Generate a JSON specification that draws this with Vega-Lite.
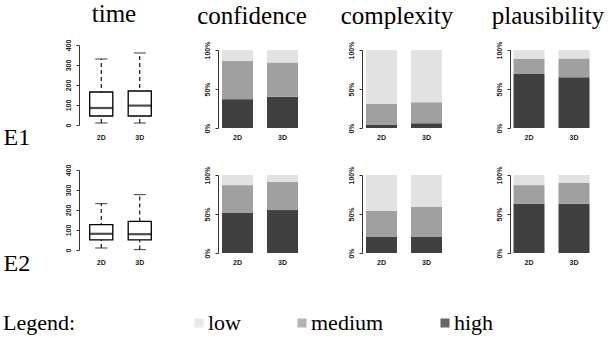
{
  "$schema": "https://vega.github.io/schema/vega-lite/v6.json",
  "background": "white",
  "padding": {"left": 3, "top": 2, "right": 5, "bottom": 5},
  "datasets": {
    "box": [
      {"exp": "E1", "cond": "2D", "lower": 10, "q1": 45, "median": 85, "q3": 165, "upper": 330},
      {"exp": "E1", "cond": "3D", "lower": 10, "q1": 45, "median": 97, "q3": 170, "upper": 360},
      {"exp": "E2", "cond": "2D", "lower": 10, "q1": 51, "median": 81, "q3": 127, "upper": 232},
      {"exp": "E2", "cond": "3D", "lower": 2, "q1": 51, "median": 79, "q3": 143, "upper": 277}
    ],
    "bars": [
      {"exp": "E1", "metric": "confidence", "cond": "2D", "level": "high", "share": 0.37},
      {"exp": "E1", "metric": "confidence", "cond": "2D", "level": "medium", "share": 0.49},
      {"exp": "E1", "metric": "confidence", "cond": "2D", "level": "low", "share": 0.14},
      {"exp": "E1", "metric": "confidence", "cond": "3D", "level": "high", "share": 0.40},
      {"exp": "E1", "metric": "confidence", "cond": "3D", "level": "medium", "share": 0.44},
      {"exp": "E1", "metric": "confidence", "cond": "3D", "level": "low", "share": 0.16},
      {"exp": "E1", "metric": "complexity", "cond": "2D", "level": "high", "share": 0.04},
      {"exp": "E1", "metric": "complexity", "cond": "2D", "level": "medium", "share": 0.27},
      {"exp": "E1", "metric": "complexity", "cond": "2D", "level": "low", "share": 0.69},
      {"exp": "E1", "metric": "complexity", "cond": "3D", "level": "high", "share": 0.06},
      {"exp": "E1", "metric": "complexity", "cond": "3D", "level": "medium", "share": 0.27},
      {"exp": "E1", "metric": "complexity", "cond": "3D", "level": "low", "share": 0.67},
      {"exp": "E1", "metric": "plausibility", "cond": "2D", "level": "high", "share": 0.70},
      {"exp": "E1", "metric": "plausibility", "cond": "2D", "level": "medium", "share": 0.19},
      {"exp": "E1", "metric": "plausibility", "cond": "2D", "level": "low", "share": 0.11},
      {"exp": "E1", "metric": "plausibility", "cond": "3D", "level": "high", "share": 0.65},
      {"exp": "E1", "metric": "plausibility", "cond": "3D", "level": "medium", "share": 0.24},
      {"exp": "E1", "metric": "plausibility", "cond": "3D", "level": "low", "share": 0.11},
      {"exp": "E2", "metric": "confidence", "cond": "2D", "level": "high", "share": 0.52},
      {"exp": "E2", "metric": "confidence", "cond": "2D", "level": "medium", "share": 0.35},
      {"exp": "E2", "metric": "confidence", "cond": "2D", "level": "low", "share": 0.13},
      {"exp": "E2", "metric": "confidence", "cond": "3D", "level": "high", "share": 0.55},
      {"exp": "E2", "metric": "confidence", "cond": "3D", "level": "medium", "share": 0.36},
      {"exp": "E2", "metric": "confidence", "cond": "3D", "level": "low", "share": 0.09},
      {"exp": "E2", "metric": "complexity", "cond": "2D", "level": "high", "share": 0.21},
      {"exp": "E2", "metric": "complexity", "cond": "2D", "level": "medium", "share": 0.33},
      {"exp": "E2", "metric": "complexity", "cond": "2D", "level": "low", "share": 0.46},
      {"exp": "E2", "metric": "complexity", "cond": "3D", "level": "high", "share": 0.21},
      {"exp": "E2", "metric": "complexity", "cond": "3D", "level": "medium", "share": 0.38},
      {"exp": "E2", "metric": "complexity", "cond": "3D", "level": "low", "share": 0.41},
      {"exp": "E2", "metric": "plausibility", "cond": "2D", "level": "high", "share": 0.63},
      {"exp": "E2", "metric": "plausibility", "cond": "2D", "level": "medium", "share": 0.24},
      {"exp": "E2", "metric": "plausibility", "cond": "2D", "level": "low", "share": 0.13},
      {"exp": "E2", "metric": "plausibility", "cond": "3D", "level": "high", "share": 0.63},
      {"exp": "E2", "metric": "plausibility", "cond": "3D", "level": "medium", "share": 0.27},
      {"exp": "E2", "metric": "plausibility", "cond": "3D", "level": "low", "share": 0.10}
    ]
  },
  "columns": 4,
  "align": "each",
  "bounds": "flush",
  "spacing": {"row": 42, "column": 56},
  "concat": [
    {
      "width": 83, "height": 80,
      "title": {"text": "time", "dx": -6.5, "offset": 12, "font": "Liberation Serif", "fontSize": 25, "fontWeight": "normal"},
      "data": {"name": "box"},
      "transform": [{"filter": "datum.exp === 'E1'"}],
      "encoding": {
        "x": {"field": "cond", "type": "nominal", "title": null,
              "scale": {"paddingInner": 0.4, "paddingOuter": 0.278},
              "axis": {"labelPadding": 8}}
      },
      "layer": [
        {"mark": {"type": "rule", "color": "#000", "strokeWidth": 1.1, "strokeDash": [4, 3]},
         "encoding": {
           "y": {"field": "lower", "type": "quantitative", "scale": {"domain": [0, 400], "nice": false},
                 "axis": {"values": [0, 100, 200, 300, 400], "labelOverlap": false, "title": "E1", "titleAngle": 0,
                          "titleX": -76, "titleY": 99, "titleAlign": "left", "titleBaseline": "alphabetic"}},
           "y2": {"field": "upper"}}},
        {"mark": {"type": "tick", "color": "#000", "size": 12, "thickness": 1.1},
         "encoding": {"y": {"field": "upper", "type": "quantitative",
                 "axis": {"values": [0, 100, 200, 300, 400], "labelOverlap": false, "title": "E1", "titleAngle": 0,
                          "titleX": -76, "titleY": 99, "titleAlign": "left", "titleBaseline": "alphabetic"}}}},
        {"mark": {"type": "tick", "color": "#000", "size": 12, "thickness": 1.1},
         "encoding": {"y": {"field": "lower", "type": "quantitative",
                 "axis": {"values": [0, 100, 200, 300, 400], "labelOverlap": false, "title": "E1", "titleAngle": 0,
                          "titleX": -76, "titleY": 99, "titleAlign": "left", "titleBaseline": "alphabetic"}}}},
        {"mark": {"type": "bar", "fill": "white", "stroke": "#000", "strokeWidth": 1.3},
         "encoding": {"y": {"field": "q1", "type": "quantitative",
                 "axis": {"values": [0, 100, 200, 300, 400], "labelOverlap": false, "title": "E1", "titleAngle": 0,
                          "titleX": -76, "titleY": 99, "titleAlign": "left", "titleBaseline": "alphabetic"}},
                      "y2": {"field": "q3"}}},
        {"mark": {"type": "tick", "color": "#000", "size": 23, "thickness": 2.2},
         "encoding": {"y": {"field": "median", "type": "quantitative",
                 "axis": {"values": [0, 100, 200, 300, 400], "labelOverlap": false, "title": "E1", "titleAngle": 0,
                          "titleX": -76, "titleY": 99, "titleAlign": "left", "titleBaseline": "alphabetic"}}}}
      ]
    },
    {
      "width": 88, "height": 83,
      "title": {"text": "confidence", "dx": -10, "font": "Liberation Serif", "fontSize": 25, "fontWeight": "normal"},
      "data": {"name": "bars"},
      "transform": [
        {"filter": "datum.exp === 'E1' && datum.metric === 'confidence'"},
        {"calculate": "indexof(['high', 'medium', 'low'], datum.level)", "as": "stackRank"}
      ],
      "mark": {"type": "bar"},
      "encoding": {
        "x": {"field": "cond", "type": "nominal", "title": null,
              "scale": {"paddingInner": 0.311, "paddingOuter": 0.1333, "align": 0.333}},
        "y": {"field": "share", "type": "quantitative", "stack": "zero",
              "scale": {"domain": [0, 1.064], "nice": false},
              "axis": {"values": [0, 0.5, 1], "format": ".0%", "title": null, "domainDash": [78, 30], "labelOverlap": false}},
        "color": {"field": "level", "type": "nominal",
                  "scale": {"domain": ["low", "medium", "high"], "range": ["#e2e2e2", "#a0a0a0", "#404040"]},
                  "legend": {"title": "Legend:", "orient": "none", "legendX": -76, "legendY": 267, "direction": "horizontal",
                             "titleOrient": "left", "titlePadding": 112, "labelOffset": -2, "columnPadding": 50,
                             "symbolType": "square", "symbolSize": 81, "symbolStrokeWidth": 0, "symbolOpacity": 0.8}},
        "order": {"field": "stackRank", "type": "quantitative"}
      }
    },
    {
      "width": 92, "height": 83,
      "title": {"text": "complexity", "dx": -11, "font": "Liberation Serif", "fontSize": 25, "fontWeight": "normal"},
      "data": {"name": "bars"},
      "transform": [
        {"filter": "datum.exp === 'E1' && datum.metric === 'complexity'"},
        {"calculate": "indexof(['high', 'medium', 'low'], datum.level)", "as": "stackRank"}
      ],
      "mark": {"type": "bar"},
      "encoding": {
        "x": {"field": "cond", "type": "nominal", "title": null,
              "scale": {"paddingInner": 0.311, "paddingOuter": 0.1777, "align": 0.25}},
        "y": {"field": "share", "type": "quantitative", "stack": "zero",
              "scale": {"domain": [0, 1.064], "nice": false},
              "axis": {"values": [0, 0.5, 1], "format": ".0%", "title": null, "domainDash": [78, 30], "labelOverlap": false}},
        "color": {"field": "level", "type": "nominal",
                  "scale": {"domain": ["low", "medium", "high"], "range": ["#e2e2e2", "#a0a0a0", "#404040"]},
                  "legend": {"title": "Legend:", "orient": "none", "legendX": -76, "legendY": 267, "direction": "horizontal",
                             "titleOrient": "left", "titlePadding": 112, "labelOffset": -2, "columnPadding": 50,
                             "symbolType": "square", "symbolSize": 81, "symbolStrokeWidth": 0, "symbolOpacity": 0.8}},
        "order": {"field": "stackRank", "type": "quantitative"}
      }
    },
    {
      "width": 83, "height": 83,
      "title": {"text": "plausibility", "dx": -3.5, "font": "Liberation Serif", "fontSize": 25, "fontWeight": "normal"},
      "data": {"name": "bars"},
      "transform": [
        {"filter": "datum.exp === 'E1' && datum.metric === 'plausibility'"},
        {"calculate": "indexof(['high', 'medium', 'low'], datum.level)", "as": "stackRank"}
      ],
      "mark": {"type": "bar"},
      "encoding": {
        "x": {"field": "cond", "type": "nominal", "title": null,
              "scale": {"paddingInner": 0.311, "paddingOuter": 0.0777, "align": 0.5}},
        "y": {"field": "share", "type": "quantitative", "stack": "zero",
              "scale": {"domain": [0, 1.064], "nice": false},
              "axis": {"values": [0, 0.5, 1], "format": ".0%", "title": null, "domainDash": [78, 30], "labelOverlap": false}},
        "color": {"field": "level", "type": "nominal",
                  "scale": {"domain": ["low", "medium", "high"], "range": ["#e2e2e2", "#a0a0a0", "#404040"]},
                  "legend": {"title": "Legend:", "orient": "none", "legendX": -76, "legendY": 267, "direction": "horizontal",
                             "titleOrient": "left", "titlePadding": 112, "labelOffset": -2, "columnPadding": 50,
                             "symbolType": "square", "symbolSize": 81, "symbolStrokeWidth": 0, "symbolOpacity": 0.8}},
        "order": {"field": "stackRank", "type": "quantitative"}
      }
    },
    {
      "width": 83, "height": 80,
      "data": {"name": "box"},
      "transform": [{"filter": "datum.exp === 'E2'"}],
      "encoding": {
        "x": {"field": "cond", "type": "nominal", "title": null,
              "scale": {"paddingInner": 0.4, "paddingOuter": 0.278},
              "axis": {"labelPadding": 8}}
      },
      "layer": [
        {"mark": {"type": "rule", "color": "#000", "strokeWidth": 1.1, "strokeDash": [4, 3]},
         "encoding": {
           "y": {"field": "lower", "type": "quantitative", "scale": {"domain": [0, 400], "nice": false},
                 "axis": {"values": [0, 100, 200, 300, 400], "labelOverlap": false, "title": "E2", "titleAngle": 0,
                          "titleX": -76, "titleY": 100, "titleAlign": "left", "titleBaseline": "alphabetic"}},
           "y2": {"field": "upper"}}},
        {"mark": {"type": "tick", "color": "#000", "size": 12, "thickness": 1.1},
         "encoding": {"y": {"field": "upper", "type": "quantitative",
                 "axis": {"values": [0, 100, 200, 300, 400], "labelOverlap": false, "title": "E2", "titleAngle": 0,
                          "titleX": -76, "titleY": 100, "titleAlign": "left", "titleBaseline": "alphabetic"}}}},
        {"mark": {"type": "tick", "color": "#000", "size": 12, "thickness": 1.1},
         "encoding": {"y": {"field": "lower", "type": "quantitative",
                 "axis": {"values": [0, 100, 200, 300, 400], "labelOverlap": false, "title": "E2", "titleAngle": 0,
                          "titleX": -76, "titleY": 100, "titleAlign": "left", "titleBaseline": "alphabetic"}}}},
        {"mark": {"type": "bar", "fill": "white", "stroke": "#000", "strokeWidth": 1.3},
         "encoding": {"y": {"field": "q1", "type": "quantitative",
                 "axis": {"values": [0, 100, 200, 300, 400], "labelOverlap": false, "title": "E2", "titleAngle": 0,
                          "titleX": -76, "titleY": 100, "titleAlign": "left", "titleBaseline": "alphabetic"}},
                      "y2": {"field": "q3"}}},
        {"mark": {"type": "tick", "color": "#000", "size": 23, "thickness": 2.2},
         "encoding": {"y": {"field": "median", "type": "quantitative",
                 "axis": {"values": [0, 100, 200, 300, 400], "labelOverlap": false, "title": "E2", "titleAngle": 0,
                          "titleX": -76, "titleY": 100, "titleAlign": "left", "titleBaseline": "alphabetic"}}}}
      ]
    },
    {
      "width": 88, "height": 83,
      "data": {"name": "bars"},
      "transform": [
        {"filter": "datum.exp === 'E2' && datum.metric === 'confidence'"},
        {"calculate": "indexof(['high', 'medium', 'low'], datum.level)", "as": "stackRank"}
      ],
      "mark": {"type": "bar"},
      "encoding": {
        "x": {"field": "cond", "type": "nominal", "title": null,
              "scale": {"paddingInner": 0.311, "paddingOuter": 0.1333, "align": 0.333}},
        "y": {"field": "share", "type": "quantitative", "stack": "zero",
              "scale": {"domain": [0, 1.064], "nice": false},
              "axis": {"values": [0, 0.5, 1], "format": ".0%", "title": null, "domainDash": [78, 30], "labelOverlap": false}},
        "color": {"field": "level", "type": "nominal",
                  "scale": {"domain": ["low", "medium", "high"], "range": ["#e2e2e2", "#a0a0a0", "#404040"]},
                  "legend": {"title": "Legend:", "orient": "none", "legendX": -76, "legendY": 267, "direction": "horizontal",
                             "titleOrient": "left", "titlePadding": 112, "labelOffset": -2, "columnPadding": 50,
                             "symbolType": "square", "symbolSize": 81, "symbolStrokeWidth": 0, "symbolOpacity": 0.8}},
        "order": {"field": "stackRank", "type": "quantitative"}
      }
    },
    {
      "width": 92, "height": 83,
      "data": {"name": "bars"},
      "transform": [
        {"filter": "datum.exp === 'E2' && datum.metric === 'complexity'"},
        {"calculate": "indexof(['high', 'medium', 'low'], datum.level)", "as": "stackRank"}
      ],
      "mark": {"type": "bar"},
      "encoding": {
        "x": {"field": "cond", "type": "nominal", "title": null,
              "scale": {"paddingInner": 0.311, "paddingOuter": 0.1777, "align": 0.25}},
        "y": {"field": "share", "type": "quantitative", "stack": "zero",
              "scale": {"domain": [0, 1.064], "nice": false},
              "axis": {"values": [0, 0.5, 1], "format": ".0%", "title": null, "domainDash": [78, 30], "labelOverlap": false}},
        "color": {"field": "level", "type": "nominal",
                  "scale": {"domain": ["low", "medium", "high"], "range": ["#e2e2e2", "#a0a0a0", "#404040"]},
                  "legend": {"title": "Legend:", "orient": "none", "legendX": -76, "legendY": 267, "direction": "horizontal",
                             "titleOrient": "left", "titlePadding": 112, "labelOffset": -2, "columnPadding": 50,
                             "symbolType": "square", "symbolSize": 81, "symbolStrokeWidth": 0, "symbolOpacity": 0.8}},
        "order": {"field": "stackRank", "type": "quantitative"}
      }
    },
    {
      "width": 83, "height": 83,
      "data": {"name": "bars"},
      "transform": [
        {"filter": "datum.exp === 'E2' && datum.metric === 'plausibility'"},
        {"calculate": "indexof(['high', 'medium', 'low'], datum.level)", "as": "stackRank"}
      ],
      "mark": {"type": "bar"},
      "encoding": {
        "x": {"field": "cond", "type": "nominal", "title": null,
              "scale": {"paddingInner": 0.311, "paddingOuter": 0.0777, "align": 0.5}},
        "y": {"field": "share", "type": "quantitative", "stack": "zero",
              "scale": {"domain": [0, 1.064], "nice": false},
              "axis": {"values": [0, 0.5, 1], "format": ".0%", "title": null, "domainDash": [78, 30], "labelOverlap": false}},
        "color": {"field": "level", "type": "nominal",
                  "scale": {"domain": ["low", "medium", "high"], "range": ["#e2e2e2", "#a0a0a0", "#404040"]},
                  "legend": {"title": "Legend:", "orient": "none", "legendX": -76, "legendY": 267, "direction": "horizontal",
                             "titleOrient": "left", "titlePadding": 112, "labelOffset": -2, "columnPadding": 50,
                             "symbolType": "square", "symbolSize": 81, "symbolStrokeWidth": 0, "symbolOpacity": 0.8}},
        "order": {"field": "stackRank", "type": "quantitative"}
      }
    }
  ],
  "config": {
    "view": {"stroke": null},
    "title": {"font": "Liberation Serif", "fontSize": 25, "fontWeight": "normal", "color": "#000",
              "anchor": "middle", "frame": "group", "offset": 12},
    "axis": {"grid": false, "labelOverlap": false, "labelFont": "Liberation Sans", "labelFontSize": 7, "labelFontWeight": "bold",
             "labelColor": "#222", "domainColor": "#333", "tickColor": "#333", "tickSize": 3,
             "titleFont": "Liberation Serif", "titleFontSize": 24, "titleFontWeight": "normal", "titleColor": "#000"},
    "axisX": {"domain": false, "ticks": false, "labelAngle": 0, "labelPadding": 5},
    "axisY": {"labelAngle": -90, "labelPadding": 5},
    "legend": {"titleFont": "Liberation Serif", "titleFontSize": 22, "titleFontWeight": "normal", "titleColor": "#000",
               "labelFont": "Liberation Serif", "labelFontSize": 22, "labelColor": "#000"}
  }
}
